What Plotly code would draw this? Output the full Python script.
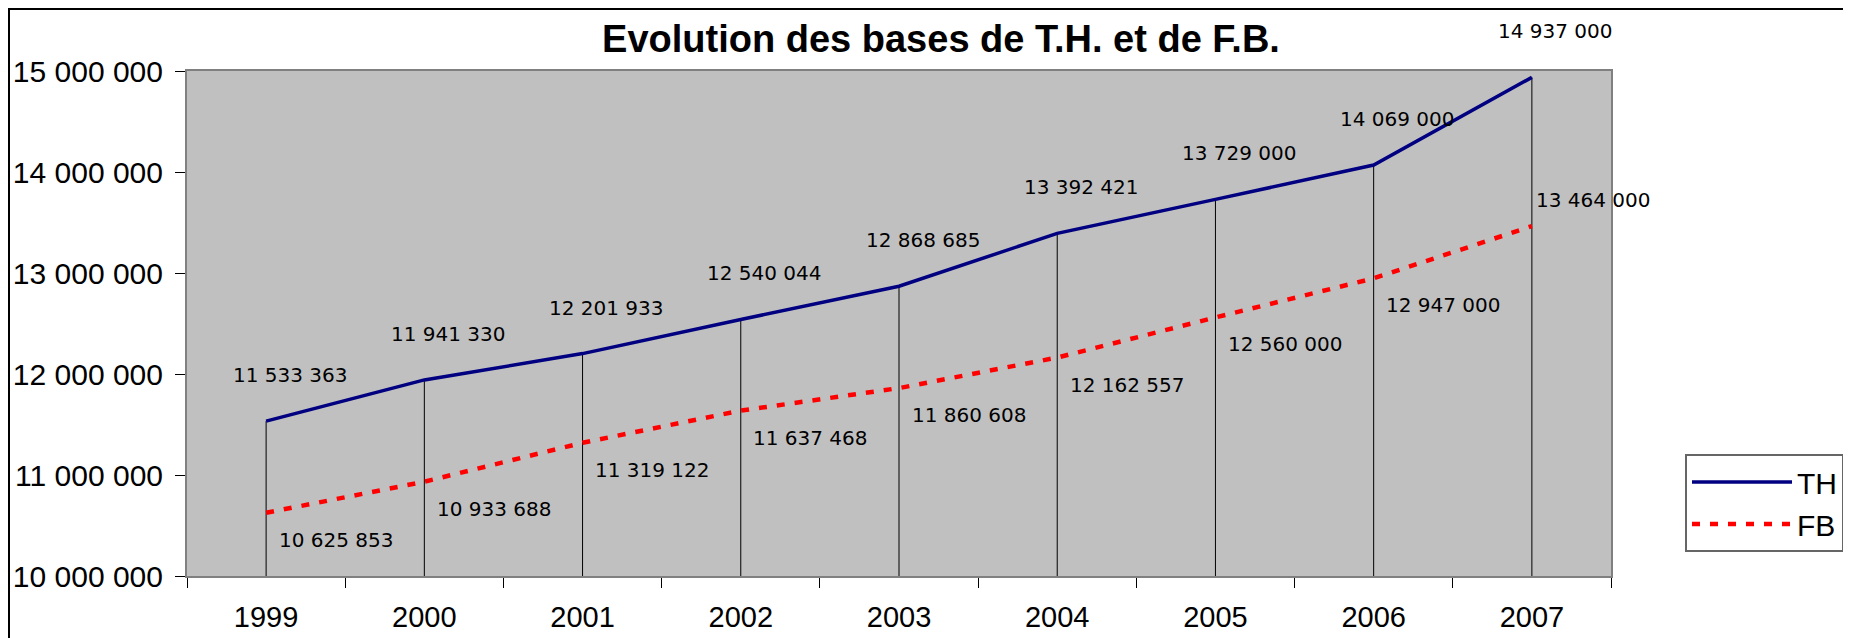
import plotly.graph_objects as go

# data
years = ["1999", "2000", "2001", "2002", "2003", "2004", "2005", "2006", "2007"]
th_values = [11533363, 11941330, 12201933, 12540044, 12868685, 13392421, 13729000, 14069000, 14937000]
fb_values = [10625853, 10933688, 11319122, 11637468, 11860608, 12162557, 12560000, 12947000, 13464000]
y_floor = 10000000


def fmt(v):
    return f"{v:,}".replace(",", " ")


# the page body adds an 8px offset, so margins are set 8px smaller
W, H = 1851, 638
ML, MR, MT, MB = 179, 248, 63, 70
pw, ph = W - ML - MR, H - MT - MB

fig = go.Figure()

# drop lines from the TH points down to the axis (error bars)
fig.add_trace(go.Scatter(
    x=years, y=th_values, mode="markers", marker=dict(size=1, opacity=0),
    error_y=dict(type="data", symmetric=False,
                 array=[0] * len(th_values),
                 arrayminus=[v - y_floor for v in th_values],
                 color="black", thickness=1, width=0),
    showlegend=False, hoverinfo="skip"))

fig.add_trace(go.Scatter(
    x=years, y=th_values, mode="lines", name="TH",
    line=dict(color="#000080", width=3.5)))

fig.add_trace(go.Scatter(
    x=years, y=fb_values, mode="lines", name="FB",
    line=dict(color="#FF0000", width=4.5, dash="8px,10px")))

label_font = dict(family="DejaVu Sans", size=20, color="black")
for i, v in enumerate(th_values):
    fig.add_annotation(x=i, y=v, text=fmt(v), showarrow=False,
                       xshift=24, yshift=46, font=label_font)
for i, v in enumerate(fb_values):
    last = i == len(fb_values) - 1
    fig.add_annotation(x=i, y=v, text=fmt(v), showarrow=False,
                       xshift=62 if last else 70, yshift=26 if last else -27,
                       font=label_font)

# outer chart border
fig.add_shape(type="rect", xref="paper", yref="paper",
              x0=(1 - ML) / pw, x1=(W + 5 - ML) / pw,
              y0=-(MB + 5) / ph, y1=1 + (MT - 1) / ph,
              line=dict(color="black", width=2), layer="below")

fig.update_layout(
    width=W, height=H,
    margin=dict(l=ML, r=MR, t=MT, b=MB),
    paper_bgcolor="white", plot_bgcolor="#C0C0C0",
    separators=", ",
    font=dict(family="Liberation Sans, Arial", color="black"),
    title=dict(text="<b>Evolution des bases de T.H. et de F.B.</b>",
               x=933 / W, xanchor="center", y=1 - 31 / H, yanchor="middle",
               font=dict(size=38, family="Liberation Sans, Arial")),
    legend=dict(x=(1677 - ML) / pw, xanchor="left",
                y=(H - MB - 446) / ph, yanchor="top",
                bgcolor="white", bordercolor="#666666", borderwidth=2,
                font=dict(size=30, family="Liberation Sans, Arial"),
                itemwidth=100, tracegroupgap=10),
    showlegend=True,
)

fig.update_xaxes(
    type="category", range=[-0.5, 8.5], tickson="boundaries",
    ticks="outside", ticklen=10, tickcolor="black",
    showgrid=False, showline=True, linecolor="#808080", linewidth=2, mirror=True,
    tickfont=dict(size=29), ticklabelstandoff=14, zeroline=False, automargin=False)

fig.update_yaxes(
    range=[10000000, 15000000], dtick=1000000, tickformat=",d",
    ticks="outside", ticklen=10, tickcolor="black",
    showgrid=False, showline=True, linecolor="#808080", linewidth=2, mirror=True,
    tickfont=dict(size=30), ticklabelstandoff=6, zeroline=False, automargin=False)

fig.write_html("out.html")
